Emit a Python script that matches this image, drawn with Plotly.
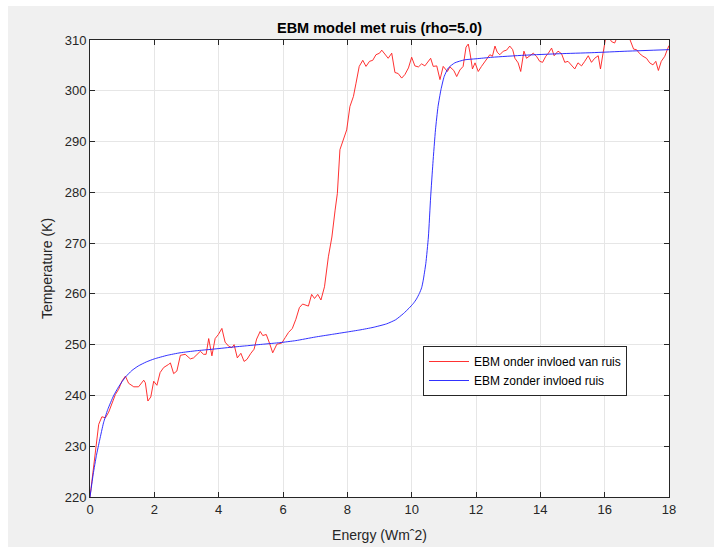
import plotly.graph_objects as go

# ---- data ----
energy_noise = [0, 0.1, 0.17, 0.27, 0.37, 0.48, 0.58, 0.68, 0.79, 0.89, 0.99, 1.1, 1.2, 1.36, 1.51,
                1.67, 1.72, 1.8, 1.89, 1.98, 2.08, 2.18, 2.29, 2.44, 2.5, 2.6, 2.7, 2.81, 2.96, 3.12,
                3.22, 3.43, 3.53, 3.61, 3.69, 3.79, 3.89, 3.99, 4.1, 4.2, 4.31, 4.41, 4.48, 4.58, 4.69,
                4.79, 4.88, 5.0, 5.1, 5.18, 5.29, 5.37, 5.48, 5.58, 5.68, 5.81, 5.96, 6.07, 6.17, 6.29,
                6.4, 6.51, 6.61, 6.79, 6.89, 6.98, 7.08, 7.18, 7.29, 7.41, 7.52, 7.62, 7.69, 7.77, 7.88,
                7.98, 8.08, 8.19, 8.27, 8.37, 8.48, 8.58, 8.69, 8.79, 8.89, 9.0, 9.07, 9.17, 9.27, 9.38,
                9.48, 9.58, 9.69, 9.79, 9.9, 10.0, 10.1, 10.21, 10.31, 10.41, 10.59, 10.67, 10.78, 10.88,
                10.98, 11.11, 11.19, 11.31, 11.4, 11.5, 11.6, 11.69, 11.76, 11.81, 11.89, 11.97, 12.07,
                12.17, 12.31, 12.43, 12.51, 12.59, 12.66, 12.74, 12.85, 12.95, 13.05, 13.14, 13.21, 13.31,
                13.39, 13.49, 13.57, 13.67, 13.78, 13.88, 13.98, 14.07, 14.17, 14.25, 14.35, 14.43, 14.55,
                14.66, 14.76, 14.86, 14.97, 15.07, 15.17, 15.28, 15.38, 15.49, 15.59, 15.69, 15.8, 15.87,
                15.95, 16.03, 16.1, 16.21, 16.31, 16.42, 16.52, 16.62, 16.73, 16.83, 16.9, 16.99, 17.09,
                17.19, 17.3, 17.4, 17.5, 17.59, 17.67, 17.76, 17.87, 17.94, 18.0]
temp_noise = [220, 225.0, 228.7, 234.3, 235.8, 235.6, 236.7, 238.2, 240.2, 241.2, 242.8, 243.8, 242.4, 241.7, 241.7,
              243.0, 242.5, 238.9, 239.7, 242.8, 242.0, 244.5, 245.5, 246.1, 246.4, 244.3, 244.8, 247.9, 248.1, 247.2,
              247.4, 248.7, 248.1, 248.1, 251.2, 247.8, 251.2, 252.0, 253.2, 250.5, 249.7, 249.4, 250.0, 247.4, 248.3,
              246.7, 247.1, 248.3, 249.1, 251.1, 252.6, 251.8, 252.0, 250.3, 248.4, 250.1, 250.3, 251.4, 252.4, 253.2,
              255.0, 257.3, 258.0, 257.6, 259.9, 259.1, 259.9, 258.8, 261.4, 267.3, 271.2, 276.5, 279.8, 288.4, 290.7,
              292.3, 296.9, 298.9, 301.5, 304.8, 306.0, 304.8, 305.8, 306.0, 307.1, 307.4, 308.0, 307.1, 306.4, 307.4,
              303.6, 303.4, 302.5, 303.2, 304.5, 306.6, 304.9, 304.7, 305.3, 304.9, 306.4, 304.8, 304.9, 302.2,
              304.8, 303.8, 304.7, 304.0, 302.8, 304.1, 304.8, 308.6, 309.2, 307.6, 304.3, 305.5, 303.8,
              304.8, 306.1, 307.1, 306.8, 308.8, 307.6, 307.1, 307.8, 308.0, 308.8, 308.1, 306.4, 305.5,
              303.8, 307.8, 306.4, 306.8, 307.4, 306.8, 305.8, 305.6, 306.8, 307.4, 308.4, 306.9, 307.8,
              307.3, 305.6, 305.8, 305.1, 304.3, 305.5, 304.9, 305.8, 306.9, 305.6, 306.4, 306.9, 304.3,
              307.4, 310.4, 311.0, 309.7, 309.4, 311.0, 310.4, 311.5, 311.0, 309.1, 308.2, 308.1, 307.3,
              306.8, 306.4, 305.5, 305.1, 305.8, 304.0, 305.8, 306.8, 308.0, 308.9]

energy_clean = [0, 0.1, 0.2, 0.3, 0.42, 0.55, 0.73, 0.9, 1.1, 1.3, 1.5, 1.75, 2.0, 2.4, 2.8, 3.3, 3.8,
                4.4, 4.9, 5.4, 5.9, 6.4, 7.0, 7.5, 8.0, 8.39, 8.8, 9.22, 9.5, 9.74, 9.92, 10.05, 10.15,
                10.24, 10.31, 10.36, 10.44, 10.52, 10.59, 10.66, 10.74, 10.82, 10.91, 11.01, 11.14,
                11.34, 11.65, 12.0, 12.5, 13.5, 14.6, 15.6, 16.7, 18.0]
temp_clean = [220, 224.5, 228.2, 231.2, 234.6, 237.2, 239.9, 241.8, 243.6, 244.9, 245.8, 246.6, 247.2,
              247.9, 248.4, 248.8, 249.1, 249.5, 249.8, 250.1, 250.4, 250.8, 251.5, 252.0, 252.5, 252.9,
              253.4, 254.1, 254.9, 256.1, 257.2, 258.1, 259.0, 260.1, 261.2, 262.7, 266.0, 271.2, 279.1,
              285.7, 292.3, 296.9, 300.2, 302.8, 304.5, 305.5, 306.1, 306.3, 306.6, 307.0, 307.3, 307.5,
              307.8, 308.1]

x_ticks = [0, 2, 4, 6, 8, 10, 12, 14, 16, 18]
y_ticks = [220, 230, 240, 250, 260, 270, 280, 290, 300, 310]

TXT = "#262626"
FONT = "Liberation Sans, Arial, Helvetica, sans-serif"

fig = go.Figure()
fig.add_trace(go.Scatter(x=energy_noise, y=temp_noise, mode="lines",
                         name="EBM onder invloed van ruis",
                         line=dict(color="#ff1a1a", width=0.9)))
fig.add_trace(go.Scatter(x=energy_clean, y=temp_clean, mode="lines",
                         name="EBM zonder invloed ruis",
                         line=dict(color="#1a1aff", width=0.9, shape="spline", smoothing=0.5)))

axis_common = dict(showline=True, linecolor=TXT, linewidth=1, mirror="ticks",
                   ticks="inside", ticklen=5, tickcolor=TXT,
                   showgrid=True, gridcolor="#e6e6e6", gridwidth=1, zeroline=False,
                   tickfont=dict(family=FONT, size=13, color=TXT))

fig.update_xaxes(range=[0, 18], tickvals=x_ticks, ticktext=[str(v) for v in x_ticks],
                 title=dict(text="Energy (Wmˆ2)", font=dict(family=FONT, size=14, color=TXT), standoff=14),
                 **axis_common)
fig.update_yaxes(range=[220, 310], tickvals=y_ticks, ticktext=[str(v) for v in y_ticks],
                 title=dict(text="Temperature (K)", font=dict(family=FONT, size=14, color=TXT), standoff=8),
                 **axis_common)

L, R, T, B = 90, 45, 40, 50
W, H = 714, 547
pw, ph = W - L - R, H - T - B

fig.update_layout(
    width=W, height=H,
    margin=dict(l=L, r=R, t=T, b=B, autoexpand=False),
    paper_bgcolor="white", plot_bgcolor="white",
    title=dict(text="<b>EBM model met ruis (rho=5.0)</b>", x=0.5, xref="paper", xanchor="center",
               y=1 - 28 / H, yref="container", yanchor="middle",
               font=dict(family=FONT, size=14.5, color="#000000")),
    legend=dict(x=(423 - L) / pw, y=(H - B - 346) / ph, xanchor="left", yanchor="top",
                bgcolor="white", bordercolor=TXT, borderwidth=1,
                font=dict(family=FONT, size=12, color="#000000"),
                itemwidth=40, tracegroupgap=0),
    showlegend=True,
    shapes=[
        dict(type="rect", xref="paper", yref="paper", layer="below",
             x0=(8 - L) / pw, x1=(W - L) / pw, y0=-(B) / ph, y1=1 + (T - 6) / ph,
             fillcolor="#f0f0f0", line=dict(width=0)),
        dict(type="rect", xref="paper", yref="paper", layer="below",
             x0=0, x1=1, y0=0, y1=1, fillcolor="white", line=dict(width=0)),
    ],
)

fig.write_html("out.html")
